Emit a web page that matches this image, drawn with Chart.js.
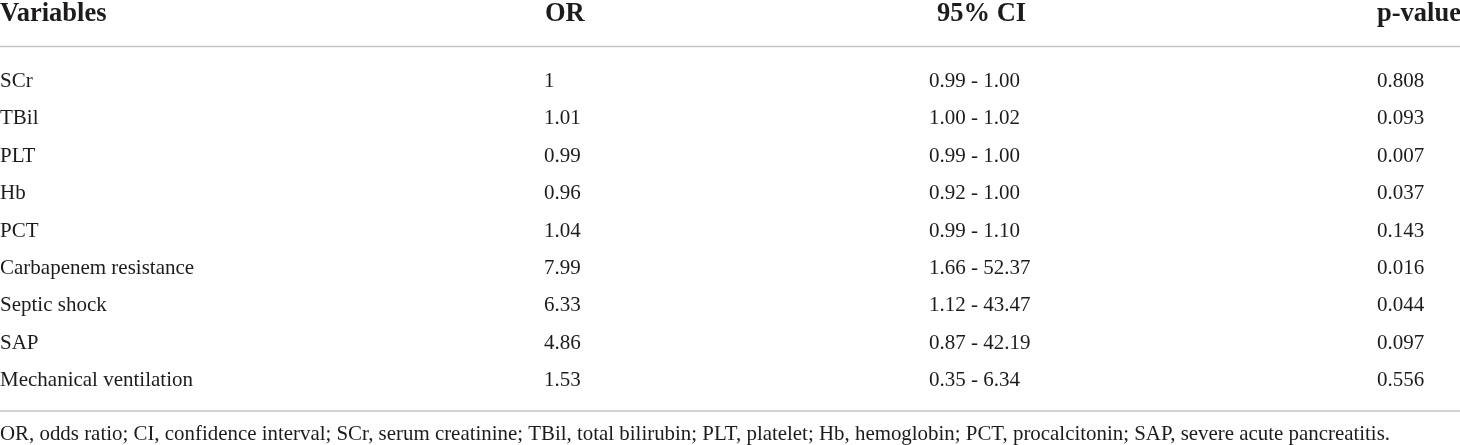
<!DOCTYPE html>
<html>
<head>
<meta charset="utf-8">
<script src="https://cdn.jsdelivr.net/npm/chart.js@4.4.1/dist/chart.umd.min.js"></script>
<style>
  html, body { margin: 0; padding: 0; background: #ffffff; }
  #wrap { width: 1460px; height: 445px; position: relative; }
</style>
</head>
<body>
<div id="wrap"><canvas id="c"></canvas></div>
<script>
// ---- table data ----
const headers = ["Variables", "OR", "95% CI", "p-value"];
const variables = ["SCr", "TBil", "PLT", "Hb", "PCT", "Carbapenem resistance", "Septic shock", "SAP", "Mechanical ventilation"];
const orValues = ["1", "1.01", "0.99", "0.96", "1.04", "7.99", "6.33", "4.86", "1.53"];
const ciValues = ["0.99 - 1.00", "1.00 - 1.02", "0.99 - 1.00", "0.92 - 1.00", "0.99 - 1.10", "1.66 - 52.37", "1.12 - 43.47", "0.87 - 42.19", "0.35 - 6.34"];
const pValues = ["0.808", "0.093", "0.007", "0.037", "0.143", "0.016", "0.044", "0.097", "0.556"];
const footnote = "OR, odds ratio; CI, confidence interval; SCr, serum creatinine; TBil, total bilirubin; PLT, platelet; Hb, hemoglobin; PCT, procalcitonin; SAP, severe acute pancreatitis.";

// ---- style / layout ----
const TEXT = "#1e1b1c";
const RULE = "#c6c6c6";
const FONT = "'Liberation Serif', 'Times New Roman', serif";
const colX = [0, 544, 929, 1377];      // body column left edges (x-scale units)
const headX = [0, 545, 937, 1377];     // header left edges

const tablePlugin = {
  id: "tablePlugin",
  afterDraw(chart) {
    const ctx = chart.ctx;
    const xs = chart.scales.x, ys = chart.scales.y;
    const area = chart.chartArea;
    ctx.save();
    ctx.fillStyle = TEXT;
    ctx.textAlign = "left";
    ctx.textBaseline = "alphabetic";

    // header
    ctx.font = "bold 26.5px " + FONT;
    headers.forEach((h, i) => {
      ctx.fillText(h, xs.getPixelForValue(headX[i]), area.top - 41);
    });

    // rules
    ctx.strokeStyle = RULE;
    ctx.lineWidth = 1.5;
    ctx.beginPath();
    ctx.moveTo(0, area.top - 15.5); ctx.lineTo(chart.width, area.top - 15.5);
    ctx.moveTo(0, area.bottom + 12); ctx.lineTo(chart.width, area.bottom + 12);
    ctx.stroke();

    // body
    ctx.font = "21px " + FONT;
    const cols = [variables, orValues, ciValues, pValues];
    variables.forEach((v, r) => {
      const y = ys.getPixelForValue(r) + 6;
      cols.forEach((col, c) => {
        ctx.fillText(col[r], xs.getPixelForValue(colX[c]), y);
      });
    });

    // footnote
    ctx.font = "20.9px " + FONT;
    ctx.fillText(footnote, 0, area.bottom + 41);
    ctx.restore();
  }
};

new Chart(document.getElementById("c"), {
  type: "scatter",
  data: {
    labels: variables,
    datasets: [{ data: [], pointRadius: 0 }]
  },
  options: {
    responsive: true,
    maintainAspectRatio: false,
    animation: false,
    events: [],
    layout: { padding: { top: 62, bottom: 46, left: 0, right: 0 } },
    plugins: { legend: { display: false }, tooltip: { enabled: false } },
    scales: {
      x: { type: "linear", min: 0, max: 1460, display: false },
      y: { type: "category", labels: variables, offset: true, display: false }
    }
  },
  plugins: [tablePlugin]
});
</script>
</body>
</html>
